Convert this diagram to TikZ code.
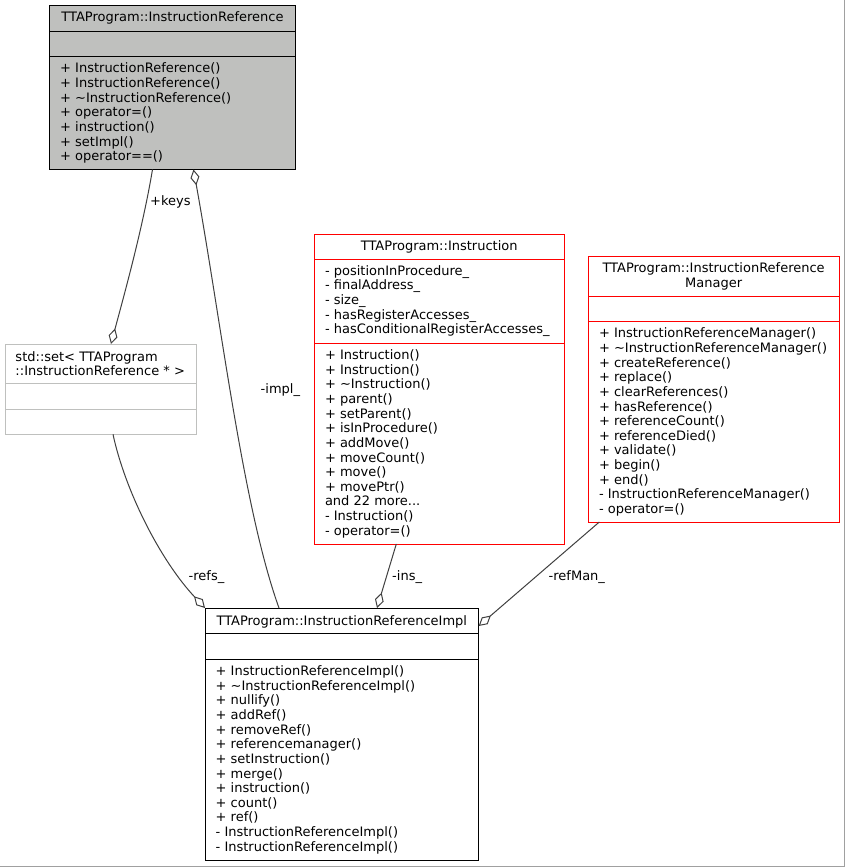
\documentclass[tikz,border=0pt]{standalone}
\usepackage{fontspec}
\setmainfont{DejaVu Sans}
\usetikzlibrary{arrows.meta}
\definecolor{boxgray}{RGB}{191,192,190}
\definecolor{edgegray}{RGB}{64,64,64}
\definecolor{umlred}{RGB}{255,0,0}
\definecolor{framegray}{RGB}{160,160,160}
\newcommand{\umlfont}{\fontsize{13.0}{14.65}\selectfont}
\tikzset{
  umlbox/.style={draw, line width=1pt, inner sep=0pt, outer sep=0pt, anchor=north west},
  txt/.style={inner sep=0pt, font=\umlfont, align=left, anchor=north west},
  ttl/.style={inner sep=0pt, font=\umlfont, align=center, anchor=north},
  agg/.style={draw=edgegray, line width=1pt, -{Diamond[open, length=16pt, width=9pt, fill=white]}},
  lbl/.style={inner sep=0pt, font=\umlfont, anchor=base west}
}
\begin{document}
\begin{tikzpicture}[x=1pt, y=-1pt]
\useasboundingbox (0,0) rectangle (845,867);
\fill[white] (0,0) rectangle (845,867);
\draw[framegray, line width=1pt] (844.5,0) -- (844.5,866.5) -- (0,866.5);

% InstructionReference
\node[umlbox, fill=boxgray, minimum width=246pt, minimum height=164pt] (ir) at (49.5,5.5) {};
\draw[line width=1pt] ([yshift=-26.2pt]ir.north west) -- ([yshift=-26.2pt]ir.north east);
\draw[line width=1pt] ([yshift=-51.2pt]ir.north west) -- ([yshift=-51.2pt]ir.north east);
\node[ttl] (irt) at (172.5,11.5) {\strut TTAProgram::InstructionReference};
\node[txt] (irm) at (60,62.3) {\strut + InstructionReference()\\+ InstructionReference()\\+ \textasciitilde InstructionReference()\\+ operator=()\\+ instruction()\\+ setImpl()\\+ operator==()};

% std::set
\node[umlbox, draw=boxgray, minimum width=191pt, minimum height=90.3pt] (set) at (5,344) {};
\draw[boxgray, line width=1pt] ([yshift=-39.5pt]set.north west) -- ([yshift=-39.5pt]set.north east);
\draw[boxgray, line width=1pt] ([yshift=-65.3pt]set.north west) -- ([yshift=-65.3pt]set.north east);
\node[txt] (sett) at (15.3,350.7) {\strut std::set< TTAProgram\\::InstructionReference * >};

% Instruction
\node[umlbox, draw=umlred, minimum width=249.7pt, minimum height=310pt] (ins) at (314.3,234) {};
\draw[umlred, line width=1pt] ([yshift=-25pt]ins.north west) -- ([yshift=-25pt]ins.north east);
\draw[umlred, line width=1pt] ([yshift=-109.3pt]ins.north west) -- ([yshift=-109.3pt]ins.north east);
\node[ttl] (inst) at (439.2,240.4) {\strut TTAProgram::Instruction};
\node[txt] (insa) at (324.8,264.7) {\strut - positionInProcedure\_\\- finalAddress\_\\- size\_\\- hasRegisterAccesses\_\\- hasConditionalRegisterAccesses\_};
\node[txt] (insm) at (324.8,349) {\strut + Instruction()\\+ Instruction()\\+ \textasciitilde Instruction()\\+ parent()\\+ setParent()\\+ isInProcedure()\\+ addMove()\\+ moveCount()\\+ move()\\+ movePtr()\\and 22 more...\\- Instruction()\\- operator=()};

% InstructionReferenceManager
\node[umlbox, draw=umlred, minimum width=250.7pt, minimum height=266pt] (mgr) at (588.3,256) {};
\draw[umlred, line width=1pt] ([yshift=-40pt]mgr.north west) -- ([yshift=-40pt]mgr.north east);
\draw[umlred, line width=1pt] ([yshift=-65pt]mgr.north west) -- ([yshift=-65pt]mgr.north east);
\node[ttl] (mgrt) at (713.6,262.3) {\strut TTAProgram::InstructionReference\\Manager};
\node[txt] (mgrm) at (598.8,327.3) {\strut + InstructionReferenceManager()\\+ \textasciitilde InstructionReferenceManager()\\+ createReference()\\+ replace()\\+ clearReferences()\\+ hasReference()\\+ referenceCount()\\+ referenceDied()\\+ validate()\\+ begin()\\+ end()\\- InstructionReferenceManager()\\- operator=()};

% InstructionReferenceImpl
\node[umlbox, minimum width=273.7pt, minimum height=252pt] (impl) at (205,608) {};
\draw[line width=1pt] ([yshift=-25pt]impl.north west) -- ([yshift=-25pt]impl.north east);
\draw[line width=1pt] ([yshift=-51pt]impl.north west) -- ([yshift=-51pt]impl.north east);
\node[ttl] (implt) at (341.8,615) {\strut TTAProgram::InstructionReferenceImpl};
\node[txt] (implm) at (215.5,665) {\strut + InstructionReferenceImpl()\\+ \textasciitilde InstructionReferenceImpl()\\+ nullify()\\+ addRef()\\+ removeRef()\\+ referencemanager()\\+ setInstruction()\\+ merge()\\+ instruction()\\+ count()\\+ ref()\\- InstructionReferenceImpl()\\- InstructionReferenceImpl()};

% connectors
\draw[agg] ([xshift=103pt]ir.south west) .. controls +(-10,60) and +(12,-45) .. ([xshift=106pt]set.north west);
\draw[agg] ([xshift=74pt]impl.north west) .. controls +(-36,-100) and +(28,155) .. ([xshift=144pt]ir.south west);
\draw[agg] ([xshift=108pt]set.south west) .. controls +(12,56) and +(-45,-48) .. (impl.north west);
\draw[agg] ([xshift=82pt]ins.south west) -- ([xshift=172pt]impl.north west);
\draw[agg] ([xshift=11pt]mgr.south west) -- ([yshift=-18pt]impl.north east);

% labels
\node[lbl] (lkeys) at (150,205) {+keys};
\node[lbl] (limpl) at (260.5,393.7) {-impl\_};
\node[lbl] (lrefs) at (188.5,580) {-refs\_};
\node[lbl] (lins) at (392,580) {-ins\_};
\node[lbl] (lref) at (548.5,580) {-refMan\_};
\end{tikzpicture}
\end{document}
